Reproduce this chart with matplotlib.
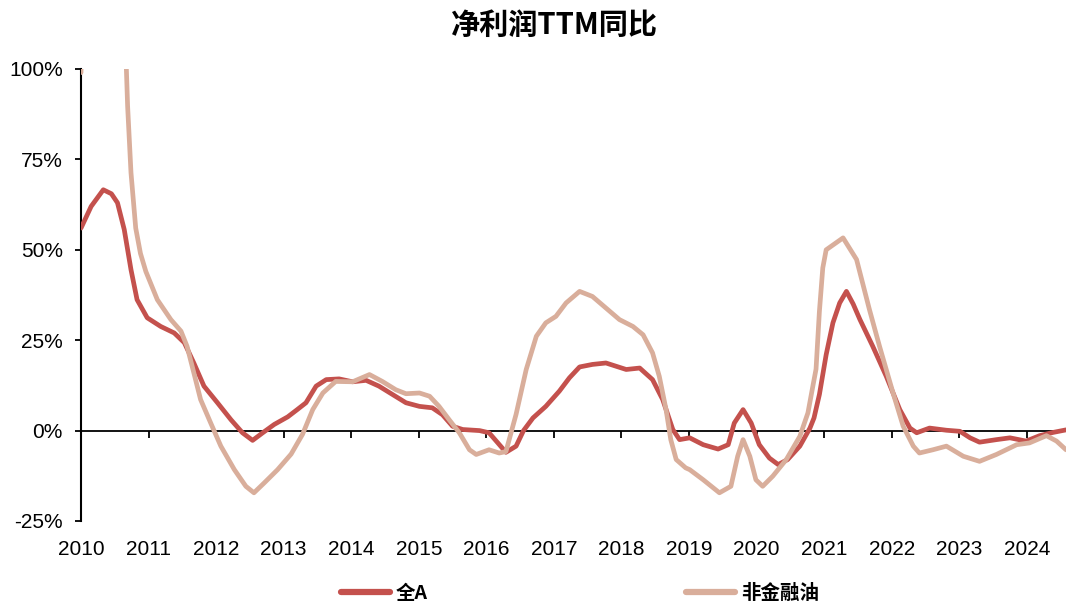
import matplotlib
matplotlib.use("Agg")
import matplotlib.pyplot as plt
from matplotlib.ticker import FuncFormatter

plt.rcParams['font.family'] = ['Liberation Sans', 'Noto Sans CJK SC', 'DejaVu Sans']

# ---- data (decimal years, % YoY) ----
years_all = [2010.00, 2010.15, 2010.33, 2010.45, 2010.54, 2010.64, 2010.74, 2010.83, 2010.98,
             2011.18, 2011.38, 2011.53, 2011.67, 2011.82, 2012.02, 2012.22, 2012.39, 2012.54,
             2012.69, 2012.86, 2013.06, 2013.20, 2013.33, 2013.48, 2013.63, 2013.82, 2014.02,
             2014.22, 2014.41, 2014.61, 2014.81, 2015.01, 2015.20, 2015.35, 2015.50, 2015.65,
             2015.90, 2016.04, 2016.17, 2016.29, 2016.44, 2016.55, 2016.69, 2016.88, 2017.08,
             2017.23, 2017.38, 2017.57, 2017.77, 2017.92, 2018.07, 2018.27, 2018.46, 2018.61,
             2018.76, 2018.86, 2019.01, 2019.21, 2019.43, 2019.58, 2019.67, 2019.80, 2019.92,
             2020.04, 2020.19, 2020.32, 2020.46, 2020.64, 2020.79, 2020.85, 2020.93, 2021.03,
             2021.13, 2021.23, 2021.33, 2021.43, 2021.53, 2021.72, 2021.92, 2022.12, 2022.27,
             2022.37, 2022.56, 2022.81, 2023.01, 2023.16, 2023.30, 2023.55, 2023.75, 2023.99,
             2024.19, 2024.39, 2024.58]
quanA = [56.0, 62.0, 66.6, 65.5, 63.0, 55.6, 44.5, 36.2, 31.2,
         28.8, 27.0, 24.3, 18.7, 12.3, 7.7, 3.0, -0.6, -2.7,
         -0.6, 1.7, 3.8, 5.8, 7.7, 12.3, 14.1, 14.3, 13.5,
         13.9, 12.3, 10.0, 7.7, 6.7, 6.3, 4.4, 1.2, 0.3,
         0.0, -0.6, -3.4, -6.0, -4.3, 0.0, 3.5, 6.7, 10.9,
         14.6, 17.6, 18.3, 18.7, 17.8, 16.9, 17.3, 14.1, 8.6,
         0.3, -2.5, -2.0, -3.9, -5.1, -3.9, 2.1, 5.8, 2.1,
         -3.9, -7.6, -9.4, -8.0, -4.3, 0.7, 3.5, 10.0, 21.0,
         29.8, 35.3, 38.5, 35.0, 30.7, 23.3, 15.0, 5.8, 0.7,
         -0.6, 0.7, 0.1, -0.2, -2.0, -3.2, -2.5, -2.0, -2.9,
         -1.4, -0.5, 0.2]

years_nf = [2010.00, 2010.08, 2010.60, 2010.69, 2010.74, 2010.81, 2010.88, 2010.96, 2011.13,
            2011.33, 2011.48, 2011.57, 2011.67, 2011.77, 2011.92, 2012.07, 2012.27, 2012.44,
            2012.56, 2012.71, 2012.91, 2013.11, 2013.28, 2013.43, 2013.58, 2013.77, 2014.02,
            2014.27, 2014.46, 2014.66, 2014.81, 2015.01, 2015.16, 2015.30, 2015.45, 2015.60,
            2015.75, 2015.85, 2016.04, 2016.19, 2016.29, 2016.44, 2016.59, 2016.74, 2016.88,
            2017.03, 2017.18, 2017.38, 2017.57, 2017.77, 2017.97, 2018.17, 2018.32, 2018.46,
            2018.56, 2018.66, 2018.73, 2018.81, 2018.95, 2019.01, 2019.21, 2019.45, 2019.62,
            2019.72, 2019.80, 2019.90, 2019.99, 2020.09, 2020.24, 2020.44, 2020.64, 2020.76,
            2020.83, 2020.88, 2020.93, 2020.98, 2021.03, 2021.28, 2021.48, 2021.67, 2021.82,
            2022.02, 2022.17, 2022.32, 2022.41, 2022.61, 2022.81, 2023.06, 2023.30, 2023.55,
            2023.85, 2024.04, 2024.29, 2024.44, 2024.58]
feijinrongyou = [99.0, 160.0, 140.0, 89.7, 71.3, 56.0, 49.0, 44.0, 36.2,
                 30.7, 27.5, 23.3, 16.0, 8.6, 2.1, -4.3, -10.8, -15.4,
                 -17.2, -14.5, -10.8, -6.5, -1.0, 5.8, 10.4, 13.6, 13.5,
                 15.5, 13.6, 11.3, 10.2, 10.4, 9.5, 6.7, 3.0, -0.6,
                 -5.3, -6.6, -5.3, -6.2, -5.8, 4.5, 16.9, 26.1, 29.8,
                 31.6, 35.3, 38.5, 37.1, 33.9, 30.7, 28.8, 26.5, 21.5,
                 15.0, 5.8, -2.5, -8.0, -10.3, -10.8, -13.6, -17.2, -15.4,
                 -7.1, -2.5, -7.1, -13.6, -15.4, -12.6, -8.0, -1.6, 4.9,
                 12.0, 17.0, 33.0, 45.0, 50.0, 53.3, 47.3, 33.5, 23.3,
                 10.4, 1.2, -4.3, -6.2, -5.3, -4.3, -7.1, -8.5, -6.6,
                 -3.9, -3.4, -1.4, -2.9, -5.3]

tick_years = list(range(2010, 2025))
y_ticks = [-25, 0, 25, 50, 75, 100]
series_names = ['全A', '非金融油']
title = '净利润TTM同比'

# ---- figure ----
fig = plt.figure(figsize=(10.66, 6.04), dpi=100)
ax = fig.add_axes([81/1066, (604-521)/604, 1 - 81/1066, (521-69)/604])

red = '#C4514D'
tan = '#D9AE9B'
ax.plot(years_all, quanA, color=red, lw=3.4, solid_capstyle='round', solid_joinstyle='round',
        label=series_names[0], zorder=3)
ax.plot(years_nf, feijinrongyou, color=tan, lw=3.4, solid_capstyle='round', solid_joinstyle='round',
        label=series_names[1], zorder=4)

ax.set_xlim(2010, 2024.58)
ax.set_ylim(-25, 100)
ax.set_yticks(y_ticks)
ax.yaxis.set_major_formatter(FuncFormatter(lambda v, p: f'{int(v)}%'))
ax.set_xticks(tick_years)
ax.set_xticklabels([str(y) for y in tick_years])

for s in ['top', 'right']:
    ax.spines[s].set_visible(False)
ax.spines['bottom'].set_position(('data', 0))
ax.spines['bottom'].set_linewidth(1.3)
ax.spines['left'].set_linewidth(1.5)
ax.spines['bottom'].set_zorder(2)

ax.tick_params(axis='y', direction='out', length=4, width=1.3, labelsize=15, pad=9)
ax.tick_params(axis='x', direction='out', length=5, width=1.3, labelsize=15, pad=74)

fig.text(0.52, 0.958, title, ha='center', va='center', fontsize=21, fontweight='bold',
         family=['Noto Sans CJK SC', 'DejaVu Sans'])

leg = fig.legend(loc='center', bbox_to_anchor=(0.544, 0.017), ncol=2, frameon=False,
                 handlelength=2.5, handletextpad=0.3, columnspacing=13.3,
                 prop={'family': ['Noto Sans CJK SC', 'DejaVu Sans'], 'size': 14, 'weight': 'bold'})
for h in leg.get_lines():
    h.set_linewidth(4.5)

fig.savefig('out.png', dpi=100)
